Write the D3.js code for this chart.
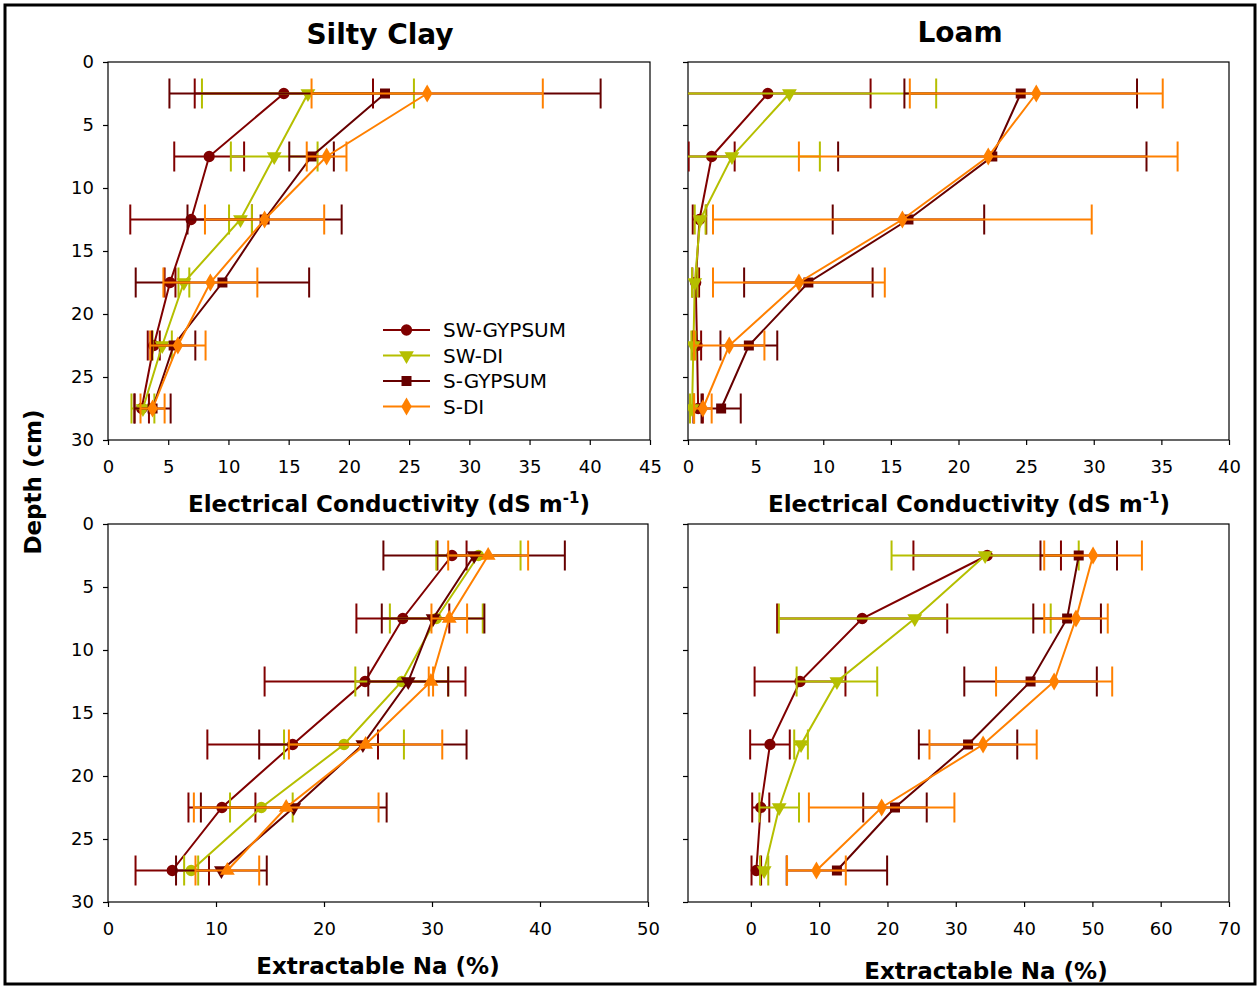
<!DOCTYPE html>
<html>
<head>
<meta charset="utf-8">
<script src="https://cdn.jsdelivr.net/npm/d3@7"></script>
<style>
  body { margin: 0; background: #fff; }
  text { font-family: "DejaVu Sans", sans-serif; }
</style>
</head>
<body>
<svg id="chart" width="1260" height="987"></svg>
<script>
// depth of each sampling layer (cm)
var depths = [2.5, 7.5, 12.5, 17.5, 22.5, 27.5];
var seriesNames = ["SW-GYPSUM", "SW-DI", "S-GYPSUM", "S-DI"];
var seriesColors = ["#800000", "#b5bf00", "#660000", "#ff8000"];

// EC, silty clay: rows = series, cols = depths
var ecClayMean = [
  [14.6, 8.4, 6.9, 5.15, 3.8, 2.8],
  [16.6, 13.8, 11.0, 6.3, 4.5, 2.9],
  [23.0, 16.9, 13.0, 9.5, 5.45, 3.7],
  [26.5, 18.15, 13.0, 8.5, 5.8, 3.7]
];
var ecClayErr = [
  [7.4, 2.9, 5.05, 0.45, 0.5, 0.6],
  [8.8, 3.6, 0.95, 0.45, 0.8, 0.95],
  [17.9, 1.85, 6.4, 7.2, 1.8, 1.5],
  [9.6, 1.65, 4.95, 3.9, 2.3, 1.0]
];

// EC, loam
var ecLoamMean = [
  [5.9, 1.75, 0.85, 0.57, 0.67, 0.75],
  [7.5, 3.25, 0.9, 0.5, 0.4, 0.3],
  [24.6, 22.5, 16.3, 8.9, 4.5, 2.45],
  [25.75, 22.2, 15.85, 8.2, 3.05, 1.1]
];
var ecLoamErr = [
  [7.6, 1.7, 0.5, 0.25, 0.3, 0.35],
  [10.85, 6.5, 0.4, 0.2, 0.15, 0.15],
  [8.6, 11.4, 5.6, 4.75, 2.1, 1.45],
  [9.35, 14.0, 14.0, 6.35, 2.6, 0.65]
];

// extractable Na, silty clay
var naClayMean = [
  [31.85, 27.3, 23.8, 17.1, 10.55, 5.95],
  [34.3, 30.4, 27.2, 21.85, 14.2, 7.7],
  [33.9, 30.1, 27.8, 23.6, 17.2, 10.5],
  [35.2, 31.6, 29.9, 23.85, 16.5, 11.05]
];
var naClayErr = [
  [1.35, 4.3, 9.3, 7.9, 3.1, 3.4],
  [3.9, 4.3, 4.3, 5.55, 2.9, 0.65],
  [8.4, 4.75, 3.7, 9.6, 8.6, 4.2],
  [3.7, 1.65, 0.2, 7.1, 8.55, 2.95]
];

// extractable Na, loam
var naLoamMean = [
  [34.6, 16.3, 7.2, 2.8, 1.45, 0.8],
  [34.3, 24.0, 12.6, 7.35, 4.15, 1.95],
  [48.0, 46.3, 40.95, 31.8, 21.1, 12.6],
  [50.1, 47.6, 44.4, 34.0, 19.15, 9.6]
];
var naLoamErr = [
  [10.8, 12.45, 6.65, 2.9, 1.25, 0.7],
  [13.7, 19.9, 5.9, 1.0, 2.9, 0.6],
  [5.6, 4.95, 9.7, 7.2, 4.65, 7.35],
  [7.15, 4.65, 8.5, 7.85, 10.65, 4.3]
];

var depthTicks = [0, 5, 10, 15, 20, 25, 30];
var ecClayTicks = [0, 5, 10, 15, 20, 25, 30, 35, 40, 45];
var ecLoamTicks = [0, 5, 10, 15, 20, 25, 30, 35, 40];
var naClayTicks = [0, 10, 20, 30, 40, 50];
var naLoamTicks = [0, 10, 20, 30, 40, 50, 60, 70];

var svg = d3.select("#chart");

// outer frame
svg.append("rect")
  .attr("x", 5).attr("y", 5).attr("width", 1250).attr("height", 979)
  .attr("fill", "none").attr("stroke", "#000").attr("stroke-width", 3);

var panels = [
  {left: 108, right: 650, top: 62, bottom: 440, domain: [0, 45], ticks: ecClayTicks,
   mean: ecClayMean, err: ecClayErr, yLabels: true,
   symbols: ["circle", "down", "square", "diamond"]},
  {left: 688, right: 1229, top: 62, bottom: 440, domain: [0, 40], ticks: ecLoamTicks,
   mean: ecLoamMean, err: ecLoamErr, yLabels: false,
   symbols: ["circle", "down", "square", "diamond"]},
  {left: 108, right: 648, top: 524, bottom: 902, domain: [0, 50], ticks: naClayTicks,
   mean: naClayMean, err: naClayErr, yLabels: true,
   symbols: ["circle", "circle", "down", "up"]},
  {left: 688, right: 1229, top: 524, bottom: 902, domain: [-9.2, 70], ticks: naLoamTicks,
   mean: naLoamMean, err: naLoamErr, yLabels: false,
   symbols: ["circle", "down", "square", "diamond"]}
];

function symbolPath(kind) {
  if (kind == "circle") return d3.symbol().type(d3.symbolCircle).size(100)();
  if (kind == "square") return d3.symbol().type(d3.symbolSquare).size(100)();
  if (kind == "diamond") return d3.symbol().type(d3.symbolDiamond).size(95)();
  return d3.symbol().type(d3.symbolTriangle).size(95)();
}

panels.forEach(function(p, pi) {
  var x = d3.scaleLinear().domain(p.domain).range([p.left, p.right]);
  var y = d3.scaleLinear().domain([0, 30]).range([p.top, p.bottom]);

  var clipId = "clip" + pi;
  svg.append("clipPath").attr("id", clipId)
    .append("rect")
    .attr("x", p.left).attr("y", p.top)
    .attr("width", p.right - p.left).attr("height", p.bottom - p.top);

  // frame
  svg.append("rect")
    .attr("x", p.left).attr("y", p.top)
    .attr("width", p.right - p.left).attr("height", p.bottom - p.top)
    .attr("fill", "none").attr("stroke", "#000").attr("stroke-width", 1.2);

  var xAxis = svg.append("g")
    .attr("transform", `translate(0, ${p.bottom})`)
    .call(d3.axisBottom(x).tickValues(p.ticks).tickSize(5).tickPadding(15));
  var yAxis = svg.append("g")
    .attr("transform", `translate(${p.left}, 0)`)
    .call(d3.axisLeft(y).tickValues(depthTicks).tickSize(5).tickPadding(9));

  [xAxis, yAxis].forEach(function(a) {
    a.select(".domain").remove();
    a.selectAll("line").attr("stroke", "#000").attr("stroke-width", 1.2);
    a.selectAll("text").attr("font-size", 18).attr("fill", "#000")
      .style("font-family", "'DejaVu Sans', sans-serif");
  });
  if (!p.yLabels) yAxis.selectAll("text").remove();

  var g = svg.append("g").attr("clip-path", `url(#${clipId})`);

  p.mean.forEach(function(vals, si) {
    var color = seriesColors[si];
    var rows = depths.map(function(d, i) {
      return {depth: d, v: vals[i], e: p.err[si][i]};
    });

    // error bars
    var eb = g.append("g").attr("stroke", color).attr("stroke-width", 2);
    rows.forEach(function(r) {
      eb.append("line")
        .attr("x1", x(r.v - r.e)).attr("x2", x(r.v + r.e))
        .attr("y1", y(r.depth)).attr("y2", y(r.depth));
      [r.v - r.e, r.v + r.e].forEach(function(c) {
        eb.append("line")
          .attr("x1", x(c)).attr("x2", x(c))
          .attr("y1", y(r.depth) - 15).attr("y2", y(r.depth) + 15);
      });
    });

    var line = d3.line()
      .x(d => x(d.v))
      .y(d => y(d.depth));

    g.append("path")
      .datum(rows)
      .attr("fill", "none")
      .attr("stroke", color)
      .attr("stroke-width", 2)
      .attr("d", line);

    var kind = p.symbols[si];
    g.selectAll(null)
      .data(rows)
      .enter().append("path")
      .attr("d", symbolPath(kind))
      .attr("fill", color)
      .attr("transform", d => `translate(${x(d.v)}, ${y(d.depth)})` + (kind == "down" ? " rotate(180)" : ""));
  });
});

// legend in the first panel
var legend = svg.append("g").attr("transform", "translate(383, 330)");
seriesNames.forEach(function(name, i) {
  var row = legend.append("g").attr("transform", `translate(0, ${i * 25.5})`);
  row.append("line").attr("x1", 0).attr("x2", 47).attr("y1", 0).attr("y2", 0)
    .attr("stroke", seriesColors[i]).attr("stroke-width", 2);
  row.append("path")
    .attr("d", symbolPath(["circle", "down", "square", "diamond"][i]))
    .attr("fill", seriesColors[i])
    .attr("transform", "translate(23.5, 0)" + (i == 1 ? " rotate(180)" : ""));
  row.append("text").attr("x", 60).attr("y", 7)
    .attr("font-size", 20).text(name);
});

// titles
svg.append("text").attr("x", 380).attr("y", 44).attr("text-anchor", "middle")
  .attr("font-size", 28).attr("font-weight", "bold").text("Silty Clay");
svg.append("text").attr("x", 960).attr("y", 42).attr("text-anchor", "middle")
  .attr("font-size", 28).attr("font-weight", "bold").text("Loam");

function ecTitle(cx) {
  var t = svg.append("text").attr("x", cx).attr("y", 512).attr("text-anchor", "middle")
    .attr("font-size", 23).attr("font-weight", "bold");
  t.append("tspan").text("Electrical Conductivity (dS m");
  t.append("tspan").attr("font-size", 15).attr("dy", -9).text("-1");
  t.append("tspan").attr("dy", 9).text(")");
}
ecTitle(389);
ecTitle(969);

svg.append("text").attr("x", 378).attr("y", 974).attr("text-anchor", "middle")
  .attr("font-size", 23).attr("font-weight", "bold").text("Extractable Na (%)");
svg.append("text").attr("x", 986).attr("y", 979).attr("text-anchor", "middle")
  .attr("font-size", 23).attr("font-weight", "bold").text("Extractable Na (%)");

svg.append("text")
  .attr("transform", "translate(41, 482) rotate(-90)")
  .attr("text-anchor", "middle")
  .attr("font-size", 23).attr("font-weight", "bold").text("Depth (cm)");
</script>
</body>
</html>
